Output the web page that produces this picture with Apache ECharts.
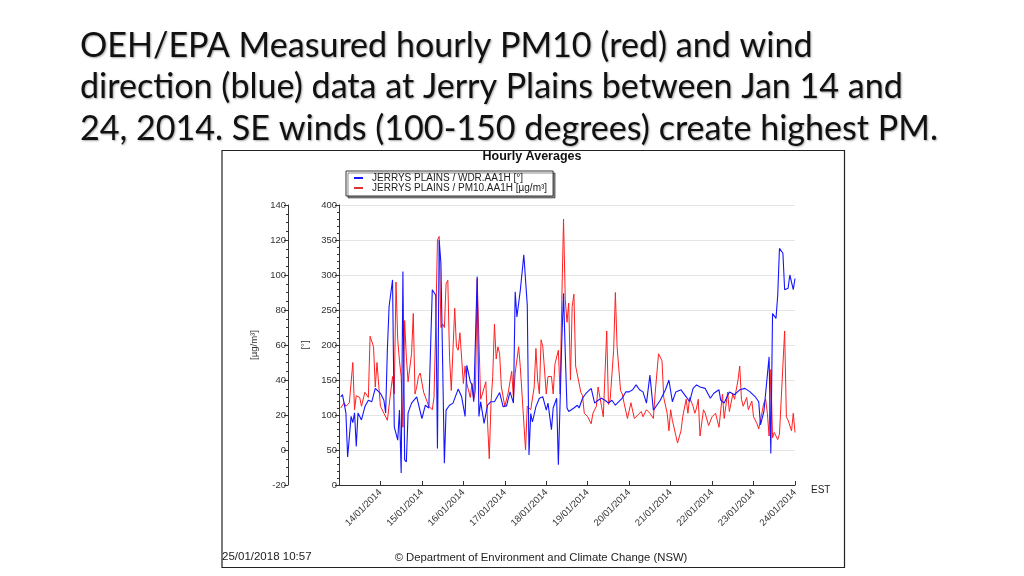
<!DOCTYPE html>
<html><head><meta charset="utf-8">
<script src="https://cdn.jsdelivr.net/npm/echarts@6/dist/echarts.min.js"></script>
<style>html,body{margin:0;padding:0;background:#fff}#c{width:1024px;height:576px}</style>
</head><body><div id="c"></div>
<script>
// ---- text ----
const titleLines = [
  'OEH/EPA Measured hourly PM10 (red) and wind',
  'direction (blue) data at Jerry Plains between Jan 14 and',
  '24, 2014. SE winds (100-150 degrees) create highest PM.'
];
const chartTitle = 'Hourly Averages';
const seriesNames = ['JERRYS PLAINS / WDR.AA1H [°]', 'JERRYS PLAINS / PM10.AA1H [µg/m³]'];
const axisNames = ['[µg/m³]', '[°]'];
const timeZone = 'EST';
const stampText = '25/01/2018 10:57';
const creditText = '© Department of Environment and Climate Change (NSW)';
// x axis: hours since 13/01/2014 00:00, one label per day
const dayLabels = ['13/01/2014','14/01/2014','15/01/2014','16/01/2014','17/01/2014','18/01/2014',
  '19/01/2014','20/01/2014','21/01/2014','22/01/2014','23/01/2014','24/01/2014'];

// ---- data: [hour since 13/01/2014 00:00, value] ----
const wdrData = [[1,126],[2,129],[4,103],[5,40],[7,98],[8,89],[9,103],[10,55],[11,103],[13,93],[15,112],[17,121],[19,119],[21,138],[22,140],[24,131],[26,121],[27,103],[28,193],[29,255],[31,293],[32,83],[34,64],[35,107],[36,17],[37,305],[38,36],[39,33],[40,103],[42,117],[45,126],[48,95],[50,114],[52,110],[54,279],[56,271],[57,52],[58,350],[59,317],[61,31],[62,107],[64,114],[66,117],[69,137],[71,126],[73,98],[74,171],[76,148],[77,143],[78,119],[80,298],[81,98],[82,119],[84,88],[86,114],[88,119],[90,119],[93,132],[95,112],[97,113],[99,133],[101,117],[102,276],[103,240],[105,279],[107,329],[108,329],[109,257],[110,43],[111,102],[112,90],[114,112],[116,124],[118,126],[120,107],[121,117],[122,98],[123,79],[124,110],[126,124],[127,29],[129,207],[130,274],[131,188],[132,110],[133,105],[134,105],[136,110],[138,114],[139,110],[141,124],[143,131],[146,138],[148,117],[150,121],[152,124],[154,121],[156,117],[158,121],[160,114],[162,119],[164,124],[166,133],[168,133],[170,136],[172,143],[174,136],[176,133],[178,117],[180,157],[182,107],[184,114],[186,121],[189,136],[191,150],[193,119],[195,133],[198,136],[201,126],[203,119],[205,138],[207,143],[209,140],[212,138],[215,124],[217,131],[220,136],[221,121],[223,117],[226,133],[229,129],[232,136],[235,138],[238,133],[241,126],[243,119],[244,86],[246,105],[249,183],[250,45],[251,245],[253,238],[254,271],[255,338],[257,331],[258,279],[260,281],[261,300],[263,279],[264,295]];

const pm10Data = [[1,24],[3,27],[4,25],[6,27],[8,50],[9,23],[10,31],[12,30],[13,25],[15,33],[17,30],[18,65],[20,59],[21,36],[22,50],[23,37],[24,25],[26,21],[28,17],[29,16],[31,42],[32,32],[33,96],[34,63],[35,51],[36,42],[37,13],[38,74],[39,53],[40,39],[42,55],[43,78],[44,32],[45,36],[46,42],[47,44],[49,33],[50,32],[52,25],[54,23],[55,30],[56,70],[57,120],[58,122],[59,70],[60,72],[61,70],[62,95],[63,97],[64,53],[65,34],[67,81],[68,59],[69,57],[70,67],[72,38],[73,48],[74,38],[76,30],[77,38],[78,29],[79,34],[80,98],[81,99],[82,29],[83,32],[85,39],[86,16],[87,-5],[88,27],[89,42],[90,72],[91,52],[92,59],[93,55],[94,36],[96,25],[97,24],[98,33],[100,45],[101,29],[102,44],[104,59],[105,47],[106,46],[108,0],[109,25],[111,23],[113,36],[114,58],[115,40],[116,32],[117,63],[118,59],[120,32],[121,42],[123,42],[124,32],[125,49],[127,57],[128,32],[129,86],[130,132],[131,86],[132,73],[133,84],[134,40],[135,82],[136,89],[137,48],[138,48],[140,33],[141,31],[142,21],[144,19],[146,15],[147,21],[149,25],[150,36],[152,25],[153,19],[155,68],[156,26],[157,29],[159,57],[160,90],[161,59],[163,34],[164,32],[165,27],[167,18],[169,27],[171,18],[173,20],[175,22],[176,19],[178,23],[180,21],[182,18],[183,32],[185,55],[187,51],[188,30],[189,29],[190,21],[191,11],[192,23],[193,17],[196,4],[198,11],[199,19],[201,29],[202,21],[203,30],[205,25],[206,21],[207,24],[208,29],[209,8],[211,23],[212,21],[214,14],[216,19],[218,21],[220,13],[221,12],[222,32],[223,18],[225,33],[226,22],[228,32],[229,29],[231,40],[232,48],[233,29],[234,25],[236,30],[237,23],[239,28],[240,19],[242,15],[243,12],[244,11],[246,27],[247,29],[248,21],[249,8],[250,46],[251,7],[252,10],[254,6],[255,9],[256,8],[258,68],[259,19],[260,17],[262,11],[263,21],[264,10]];

// ---- layout ----
const chart = echarts.init(document.getElementById('c'), null, {renderer: 'canvas'});
const cv = document.createElement('canvas').getContext('2d');
const targetW = [726, 831, 857];
let ratio = 0;
titleLines.forEach((t, i) => { cv.font = '100px Lato'; ratio += targetW[i] / cv.measureText(t).width; });
const titleSize = (ratio / titleLines.length * 100).toFixed(1);
const titleY = [46, 87.5, 129];
const chartFont = '"Liberation Sans", Arial, sans-serif';

const graphics = [
  {type: 'rect', shape: {x: 222, y: 150.5, width: 622.5, height: 417}, style: {fill: '#fff', stroke: '#222', lineWidth: 1.2}, z: -10}
];
titleLines.forEach((t, i) => graphics.push({
  type: 'text', x: 80, y: titleY[i],
  style: {text: t, font: titleSize + 'px Lato', fill: '#111', verticalAlign: 'middle',
    textShadowColor: 'rgba(0,0,0,0.35)', textShadowBlur: 2, textShadowOffsetX: 1, textShadowOffsetY: 1}
}));
graphics.push({type: 'text', x: 532, y: 157, style: {text: chartTitle, font: 'bold 12.5px ' + chartFont, fill: '#111', align: 'center', verticalAlign: 'middle'}});
graphics.push({type: 'text', x: 811, y: 490, style: {text: timeZone, font: '10px ' + chartFont, fill: '#222', verticalAlign: 'middle'}});
graphics.push({type: 'text', x: 222, y: 557, style: {text: stampText, font: '11.5px ' + chartFont, fill: '#222', verticalAlign: 'middle'}});
graphics.push({type: 'text', x: 541, y: 558, style: {text: creditText, font: '11.3px ' + chartFont, fill: '#222', align: 'center', verticalAlign: 'middle'}});

const axisCommon = {
  axisLine: {show: true, onZero: false, lineStyle: {color: '#333', width: 1}},
  axisTick: {show: true, length: 4, lineStyle: {color: '#333'}},
  axisLabel: {fontSize: 9.5, color: '#333', fontFamily: chartFont, margin: 2},
  nameLocation: 'middle', nameGap: 29,
  nameTextStyle: {fontSize: 9.5, color: '#333', fontFamily: chartFont}
};

chart.setOption({
  animation: false,
  backgroundColor: '#fff',
  textStyle: {fontFamily: chartFont},
  graphic: graphics,
  legend: {
    left: 346, top: 171, orient: 'vertical',
    data: seriesNames,
    icon: 'rect', itemWidth: 9, itemHeight: 2, itemGap: 0,
    padding: [2, 6, 3, 8],
    backgroundColor: '#fff', borderColor: '#333', borderWidth: 1,
    shadowColor: 'rgba(0,0,0,0.45)', shadowBlur: 0, shadowOffsetX: 2, shadowOffsetY: 2,
    textStyle: {fontSize: 10, color: '#222', fontFamily: chartFont, lineHeight: 10, padding: [0, 0, 0, 4]},
    selectedMode: false
  },
  grid: {left: 339, top: 205, width: 456, height: 280, containLabel: false},
  xAxis: {
    type: 'value', min: 0, max: 264, interval: 24,
    axisLine: {show: true, onZero: false, lineStyle: {color: '#333', width: 1}},
    axisTick: {show: true, inside: true, length: 4, lineStyle: {color: '#333'}},
    axisLabel: {rotate: 45, fontSize: 9.5, color: '#333', fontFamily: chartFont, margin: 6,
      formatter: v => (v % 24 === 0 && v > 0) ? dayLabels[v / 24] : ''},
    splitLine: {show: false}
  },
  yAxis: [
    Object.assign({}, axisCommon, {
      type: 'value', min: -20, max: 140, interval: 20, position: 'left', offset: 51,
      name: axisNames[0], nameRotate: 90,
      minorTick: {show: true, splitNumber: 4, length: 2, lineStyle: {color: '#333'}},
      splitLine: {show: false}
    }),
    Object.assign({}, axisCommon, {
      type: 'value', min: 0, max: 400, interval: 50, position: 'left', offset: 0,
      name: axisNames[1], nameRotate: 90,
      minorTick: {show: true, splitNumber: 5, length: 2, lineStyle: {color: '#333'}},
      splitLine: {show: true, lineStyle: {color: '#e4e4e4', width: 1}}
    })
  ],
  series: [
    {name: seriesNames[1], type: 'line', yAxisIndex: 0, data: pm10Data, showSymbol: false,
      lineStyle: {color: '#ff2020', width: 1}, itemStyle: {color: '#e03030'}},
    {name: seriesNames[0], type: 'line', yAxisIndex: 1, data: wdrData, showSymbol: false,
      lineStyle: {color: '#1515ff', width: 1.1}, itemStyle: {color: '#1515ff'}}
  ]
});
</script></body></html>
